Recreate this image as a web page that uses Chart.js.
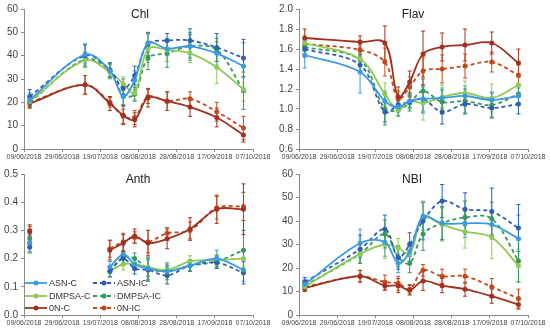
<!DOCTYPE html>
<html>
<head>
  <meta charset="UTF-8">
  <title>Chl, Flav, Anth and NBI</title>
  <script src="https://cdn.jsdelivr.net/npm/chart.js"></script>
  <style>
    body, html {
      margin: 0;
      padding: 0;
      background: #fff;
      font-family: "Liberation Sans", Arial, sans-serif;
    }
    #wrap { position: relative; width: 550px; height: 331px; }
    .panel { position: absolute; width: 275px; }
    .ttl {
      position: absolute;
      font-size: 12px;
      color: #222;
      transform: translateX(-50%);
    }
    #legend { position: absolute; left: 25px; top: 278px; font-size: 9px; color: #333; }
    .item { position: absolute; white-space: nowrap; display: flex; align-items: center; }
    .item svg { margin-right: 2px; }
  </style>
</head>
<body>
<div id="wrap">
  <div class="panel" style="left:0;top:0;height:165px"><canvas id="chl"></canvas></div>
  <div class="panel" style="left:275px;top:0;height:165px"><canvas id="flav"></canvas></div>
  <div class="panel" style="left:0;top:165px;height:166px"><canvas id="anth"></canvas></div>
  <div class="panel" style="left:275px;top:165px;height:166px"><canvas id="nbi"></canvas></div>
  <div class="ttl" style="left:140px;top:7px">Chl</div>
  <div class="ttl" style="left:413px;top:7px">Flav</div>
  <div class="ttl" style="left:138px;top:172px">Anth</div>
  <div class="ttl" style="left:412px;top:172px">NBI</div>
  <div id="legend"></div>
</div>

<script>
  // sampling days, counted from 09/06/2018
  const days = [3, 32, 45, 52, 58, 65, 75, 87, 101, 115];
  const seriesNames = ["ASN-C", "ASN-IC", "DMPSA-C", "DMPSA-IC", "0N-C", "0N-IC"];

  // values per series, same order as seriesNames
  const chlValues = [
    [21, 40.5, 33.5, 22.5, 29.5, 45.5, 43, 44, 41, 35.5],
    [22.5, 40, 34, 26, 31.5, 45, 46.5, 46.5, 43.5, 39],
    [20.5, 38, 33, 28, 24, 43, 42.5, 41, 35, 25.5],
    [20, 38.5, 33.5, 23, 23.5, 39, 41, 44, 42.5, 25],
    [19.5, 27.5, 19.5, 14.5, 12.5, 22, 20.5, 18, 13.5, 6],
    [20, 27.5, 20, 14, 13.5, 22.5, 20.5, 21.5, 16, 9]
  ];
  const chlErrors = [
    [3, 4, 3, 4, 4, 4, 3, 6, 5, 10],
    [3, 5, 3, 4, 4, 5, 3, 5, 6, 8],
    [2, 3, 3, 3, 3, 6, 5, 4, 7, 5],
    [2, 3, 3, 4, 3, 5, 6, 5, 5, 8],
    [2, 4, 3, 4, 3, 4, 4, 4, 4, 3],
    [2, 4, 2, 3, 3, 3, 4, 3, 4, 5]
  ];

  const flavValues = [
    [1.54, 1.37, 1.08, 1.02, 1.08, 1.10, 1.11, 1.13, 1.09, 1.13],
    [1.60, 1.44, 0.97, 1.04, 1.07, 1.10, 0.97, 1.05, 1.01, 1.05],
    [1.66, 1.50, 1.15, 0.99, 1.08, 1.06, 1.12, 1.16, 1.11, 1.24],
    [1.62, 1.49, 1.00, 0.99, 1.06, 1.18, 1.07, 1.08, 1.04, 1.15],
    [1.71, 1.67, 1.66, 1.12, 1.27, 1.55, 1.62, 1.64, 1.66, 1.46],
    [1.65, 1.59, 1.47, 1.10, 1.22, 1.38, 1.40, 1.43, 1.47, 1.34]
  ];
  const flavErrors = [
    [0.13, 0.21, 0.10, 0.05, 0.06, 0.12, 0.10, 0.10, 0.08, 0.08],
    [0.08, 0.08, 0.10, 0.05, 0.06, 0.14, 0.12, 0.10, 0.10, 0.10],
    [0.08, 0.06, 0.11, 0.06, 0.08, 0.17, 0.12, 0.12, 0.14, 0.10],
    [0.07, 0.06, 0.16, 0.06, 0.08, 0.12, 0.12, 0.12, 0.12, 0.10],
    [0.09, 0.06, 0.17, 0.10, 0.11, 0.23, 0.14, 0.16, 0.11, 0.14],
    [0.07, 0.05, 0.14, 0.08, 0.10, 0.14, 0.14, 0.12, 0.10, 0.10]
  ];

  // no Anth reading on the second date
  const anthValues = [
    [0.255, null, 0.17, 0.215, 0.18, 0.165, 0.155, 0.175, 0.20, 0.16],
    [0.24, null, 0.155, 0.20, 0.165, 0.16, 0.14, 0.175, 0.185, 0.15],
    [0.25, null, 0.155, 0.18, 0.18, 0.17, 0.16, 0.19, 0.195, 0.20],
    [0.27, null, 0.155, 0.205, 0.20, 0.165, 0.155, 0.175, 0.19, 0.23],
    [0.295, null, 0.23, 0.255, 0.28, 0.255, 0.27, 0.305, 0.375, 0.375],
    [0.30, null, 0.235, 0.26, 0.275, 0.26, 0.29, 0.30, 0.38, 0.385]
  ];
  const anthErrors = [
    [0.03, null, 0.02, 0.03, 0.02, 0.03, 0.02, 0.02, 0.03, 0.04],
    [0.02, null, 0.02, 0.02, 0.02, 0.04, 0.03, 0.02, 0.02, 0.04],
    [0.03, null, 0.02, 0.02, 0.02, 0.03, 0.02, 0.02, 0.02, 0.03],
    [0.03, null, 0.02, 0.02, 0.02, 0.04, 0.03, 0.02, 0.02, 0.07],
    [0.02, null, 0.035, 0.03, 0.025, 0.045, 0.035, 0.04, 0.05, 0.09],
    [0.02, null, 0.03, 0.03, 0.02, 0.04, 0.02, 0.03, 0.04, 0.05]
  ];

  const nbiValues = [
    [13, 30.5, 31, 22, 27, 42, 39, 39, 38.5, 32.5],
    [14, 28, 36.5, 24.5, 30, 40, 48.5, 45, 44, 37],
    [12, 26, 30, 28.5, 26, 41.5, 38.5, 35.5, 33, 21],
    [12.5, 26, 34.5, 24.5, 22, 34.5, 39, 41.5, 41, 23],
    [11.5, 16.5, 12.5, 12.5, 10.5, 14.5, 12.5, 11, 8, 4.5],
    [12, 16.5, 14, 13.5, 11, 19, 16.5, 16.5, 12, 7]
  ];
  const nbiErrors = [
    [2, 6, 6, 4, 4, 6, 7, 6, 6, 10],
    [2, 6, 6, 5, 5, 8, 7, 7, 10, 10],
    [1.5, 4, 6, 4, 4, 7, 7, 7, 9, 7],
    [1.5, 4, 6, 4, 4, 7, 7, 7, 7, 9],
    [1.5, 2.5, 2, 3, 2, 4, 3, 3, 3, 2],
    [1.5, 2.5, 3, 3, 2, 2.5, 3, 3, 3.5, 4]
  ];

  const colors = ["#3b9ae1", "#2d5fb5", "#8fca55", "#359a5c", "#a3301f", "#c04a1d"];
  const dashed = [false, true, false, true, false, true];

  function fmtDate(v) {
    const d = new Date(2018, 5, 9 + v);
    return String(d.getDate()).padStart(2, '0') + '/' + String(d.getMonth() + 1).padStart(2, '0') + '/' + d.getFullYear();
  }

  const errorBars = {
    id: 'errorBars',
    beforeDatasetsDraw(chart) {
      const c = chart.ctx;
      const y = chart.scales.y;
      chart.data.datasets.forEach((ds, i) => {
        const meta = chart.getDatasetMeta(i);
        c.save();
        c.strokeStyle = ds.borderColor;
        c.lineWidth = 1;
        meta.data.forEach((pt, j) => {
          const v = ds.data[j].y, e = ds.errors[j];
          if (v == null || e == null) return;
          const y1 = y.getPixelForValue(v - e), y2 = y.getPixelForValue(v + e);
          c.beginPath();
          c.moveTo(pt.x, y1); c.lineTo(pt.x, y2);
          c.moveTo(pt.x - 2, y1); c.lineTo(pt.x + 2, y1);
          c.moveTo(pt.x - 2, y2); c.lineTo(pt.x + 2, y2);
          c.stroke();
        });
        c.restore();
      });
    }
  };

  function makePanel(id, values, errors, yMin, yMax, yStep, decimals, topPad) {
    const datasets = seriesNames.map((name, i) => ({
      label: name,
      data: values[i].map((v, j) => ({ x: days[j], y: v })),
      errors: errors[i],
      borderColor: colors[i],
      backgroundColor: colors[i],
      borderDash: dashed[i] ? [4, 3] : [],
      borderWidth: 1.8,
      pointRadius: 2.5,
      pointBorderWidth: 0,
      tension: 0.35,
      spanGaps: false
    }));
    return new Chart(document.getElementById(id), {
      type: 'line',
      data: { datasets },
      options: {
        responsive: true,
        maintainAspectRatio: false,
        animation: false,
        layout: { padding: { top: topPad, right: 22, left: 0, bottom: 0 } },
        plugins: { legend: { display: false }, tooltip: { enabled: false } },
        scales: {
          x: {
            type: 'linear', min: 0, max: 120,
            afterFit: s => { s.height = 16; },
            grid: { drawOnChartArea: false, color: '#8a8a8a', tickLength: 3 },
            border: { color: '#8a8a8a' },
            ticks: {
              stepSize: 20, autoSkip: false, maxRotation: 0, padding: 1,
              color: '#444', font: { size: 7 },
              callback: v => fmtDate(v)
            }
          },
          y: {
            min: yMin, max: yMax,
            afterFit: s => { s.width = 24; },
            grid: { drawOnChartArea: false, color: '#8a8a8a', tickLength: 3 },
            border: { color: '#8a8a8a' },
            ticks: {
              stepSize: yStep, padding: 3, color: '#444', font: { size: 10 },
              callback: v => v.toFixed(decimals)
            }
          }
        }
      },
      plugins: [errorBars]
    });
  }

  makePanel('chl', chlValues, chlErrors, 0, 60, 10, 0, 6);
  makePanel('flav', flavValues, flavErrors, 0.6, 2.0, 0.2, 1, 6);
  makePanel('anth', anthValues, anthErrors, 0, 0.5, 0.1, 1, 7);
  makePanel('nbi', nbiValues, nbiErrors, 0, 60, 10, 0, 7);

  // legend inside the Anth panel, two columns
  const legend = document.getElementById('legend');
  seriesNames.forEach((name, i) => {
    const col = i % 2, row = Math.floor(i / 2);
    const el = document.createElement('div');
    el.className = 'item';
    el.style.left = (col * 68) + 'px';
    el.style.top = (row * 12.5) + 'px';
    el.innerHTML =
      '<svg width="22" height="8"><line x1="0" y1="4" x2="22" y2="4" stroke="' + colors[i] +
      '" stroke-width="1.8"' + (dashed[i] ? ' stroke-dasharray="4 3"' : '') + '/>' +
      '<circle cx="11" cy="4" r="2.5" fill="' + colors[i] + '"/></svg>' + name;
    legend.appendChild(el);
  });
</script>
</body>
</html>
